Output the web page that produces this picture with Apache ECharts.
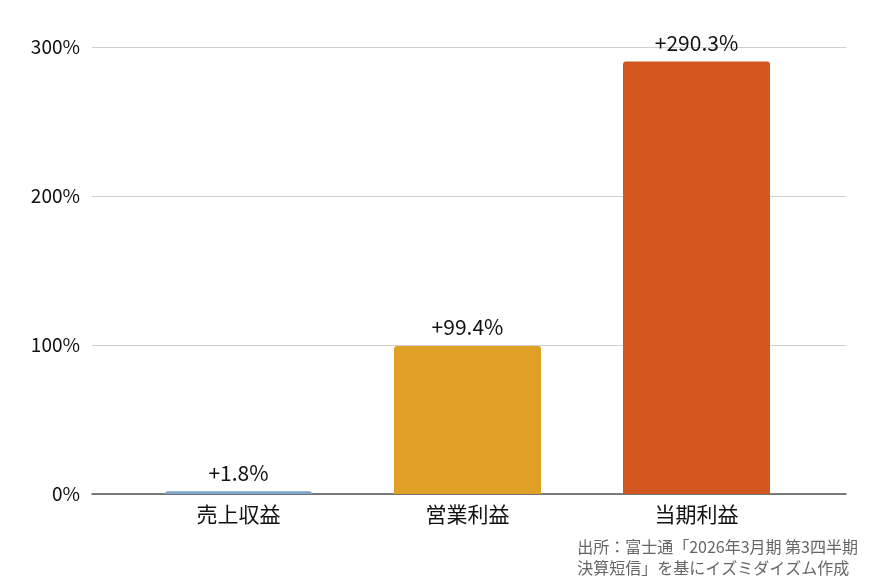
<!DOCTYPE html>
<html><head><meta charset="utf-8">
<script src="https://cdn.jsdelivr.net/npm/echarts@6/dist/echarts.min.js"></script>
<style>html,body{margin:0;padding:0;background:#fff}#c{width:870px;height:583px}</style>
</head><body><div id="c"></div>
<script>
const categories = ['売上収益','営業利益','当期利益'];
const values = [1.8, 99.4, 290.3];
const colors = ['#7fa6c6','#e0a026','#d1561f'];
const yTicks = [0, 100, 200, 300];
const chart = echarts.init(document.getElementById('c'));
const F = '"Noto Sans CJK JP", Roboto, sans-serif';
const yBase = {type:'value',min:yTicks[0],max:yTicks[yTicks.length-1],interval:100,
    axisLine:{show:false},axisTick:{show:false}};
chart.setOption({
  animation:false,
  grid:[{left:124,right:59,top:47,bottom:89},{left:92,right:24,top:47,bottom:89}],
  xAxis:[{type:'category',data:categories,gridIndex:0,
    axisLine:{show:false},axisTick:{show:false},
    axisLabel:{color:'#111',fontSize:21,fontFamily:F,margin:10}},
    {type:'value',gridIndex:1,min:0,max:1,show:true,
    axisLine:{show:true,onZero:false,lineStyle:{color:'#555',width:1.5}},axisTick:{show:false},
    axisLabel:{show:false},splitLine:{show:false}}],
  yAxis:[Object.assign({gridIndex:0,axisLabel:{show:false},splitLine:{show:false}},yBase),
    Object.assign({gridIndex:1,splitLine:{lineStyle:{color:'#d0d0d0'}},
    axisLabel:{color:'#111',fontSize:19,fontFamily:F,formatter:v=>v+'%',margin:12}},yBase)],
  series:[{type:'bar',barWidth:147,xAxisIndex:0,yAxisIndex:0,z:3,
    data:values.map((v,i)=>({value:v,itemStyle:{color:colors[i],borderRadius:[3,3,0,0]}})),
    label:{show:true,position:'top',distance:8,color:'#111',fontSize:21,fontFamily:F,
      formatter:p=>'+'+p.value.toFixed(1)+'%'}}],
  graphic:[{type:'text',right:12,top:536,style:{text:'出所：富士通「2026年3月期 第3四半期\n決算短信」を基にイズミダイズム作成',
    align:'right',fill:'#666',fontSize:16,lineHeight:21,fontFamily:F}}]
});
</script></body></html>
